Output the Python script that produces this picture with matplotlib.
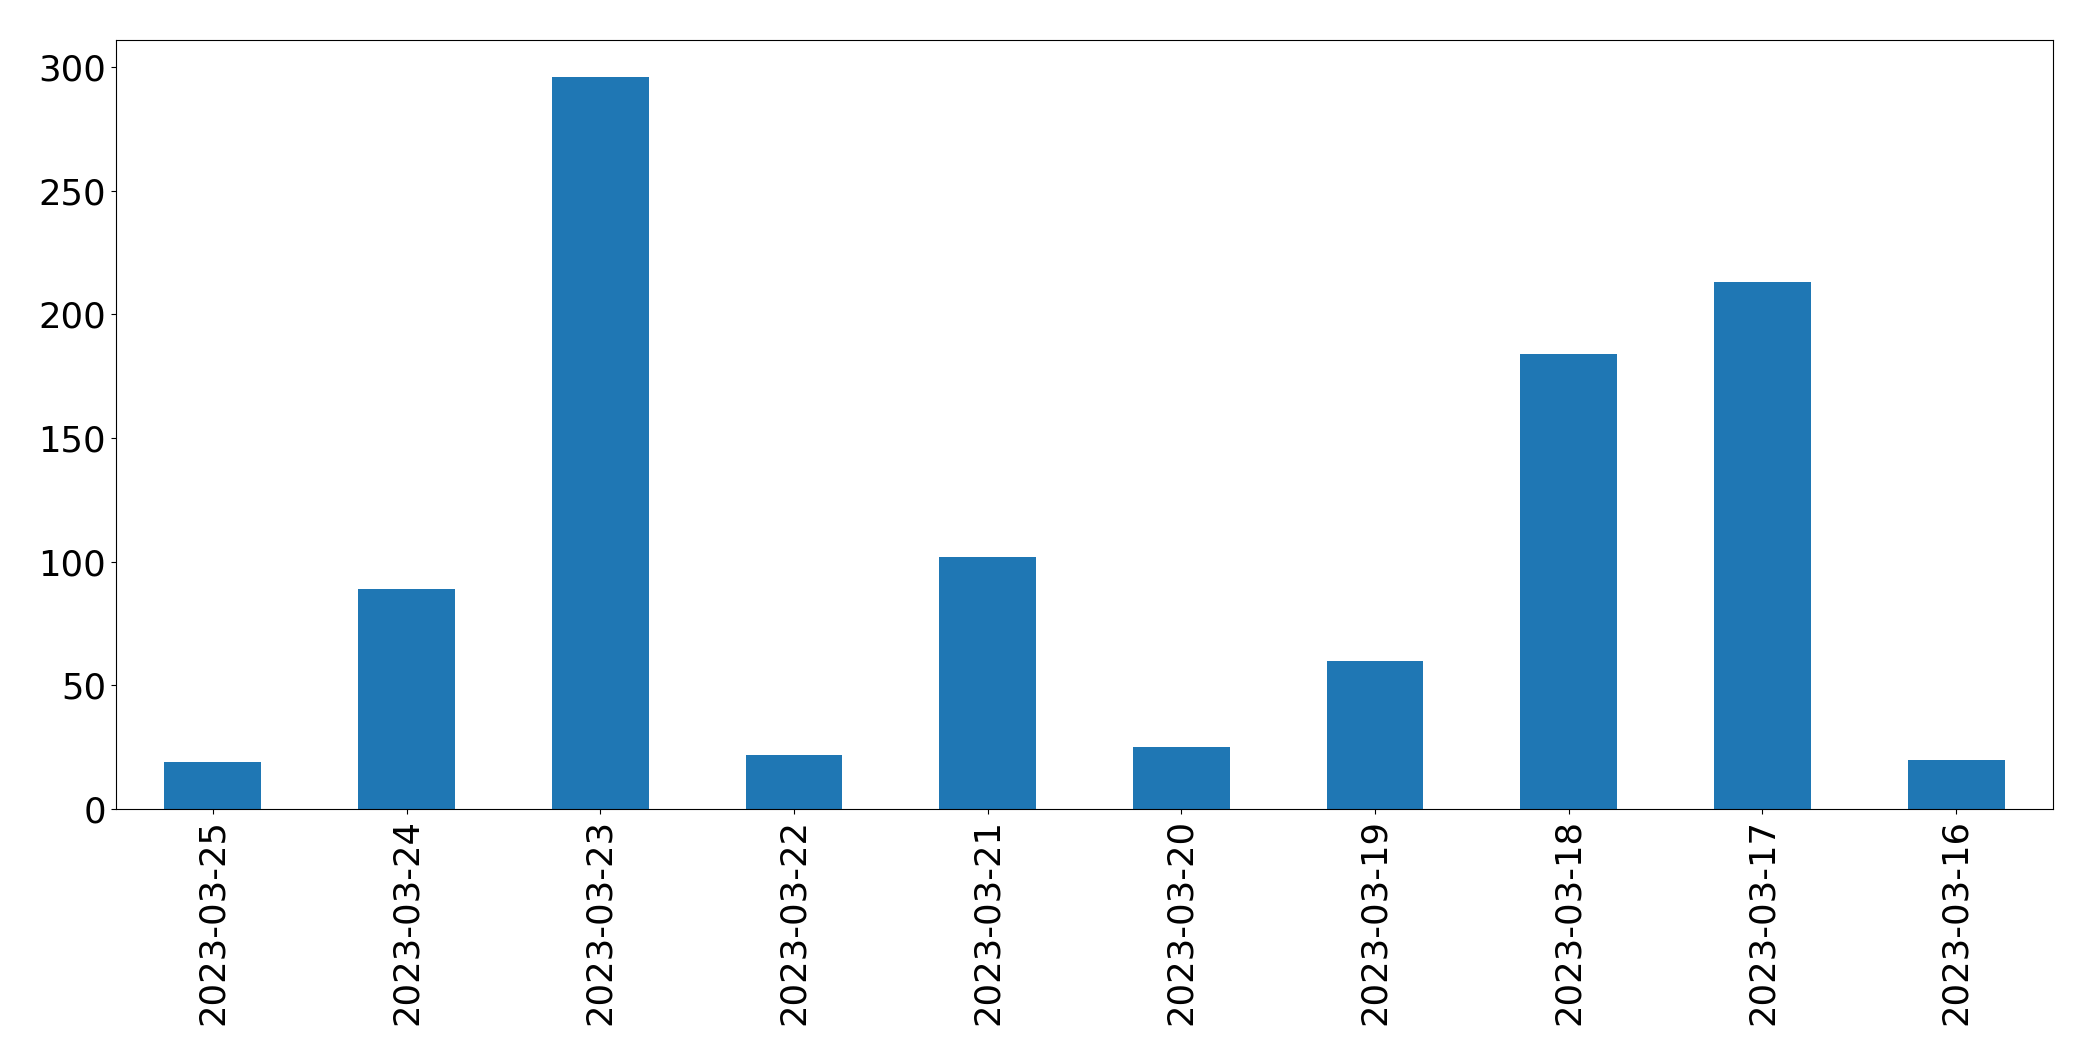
import matplotlib
matplotlib.use('Agg')
import matplotlib.pyplot as plt
import pandas as pd

# daily counts, newest first
dates = ['2023-03-25', '2023-03-24', '2023-03-23', '2023-03-22', '2023-03-21',
         '2023-03-20', '2023-03-19', '2023-03-18', '2023-03-17', '2023-03-16']
counts = [19, 89, 296, 22, 102, 25, 60, 184, 213, 20]

s = pd.Series(counts, index=dates)

fig = plt.figure(figsize=(20.93, 10.61), dpi=100)
ax = fig.add_axes([0.0554, 0.2375, 0.9255, 0.7245])
s.plot.bar(ax=ax, color='#1f77b4', fontsize=25.5)
for sp in ax.spines.values():
    sp.set_color('black')

plt.savefig('out.png', dpi=100)
